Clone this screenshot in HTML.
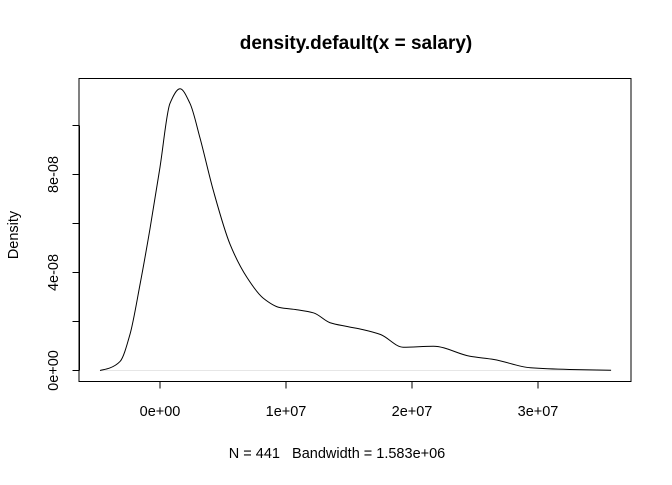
<!DOCTYPE html>
<html><head><meta charset="utf-8"><style>
html,body{margin:0;padding:0;background:#fff}
svg text{font-family:"Liberation Sans",Arial,sans-serif;fill:#000;white-space:pre}
</style></head><body>
<svg id="chart" width="672" height="480" viewBox="0 0 672 480" xmlns="http://www.w3.org/2000/svg">
<text x="356" y="49" font-size="19" font-weight="bold" text-anchor="middle">density.default(x = salary)</text>
<rect x="79" y="78.5" width="552" height="303" fill="none" stroke="#000" stroke-width="1"/>
<text transform="translate(18,235) rotate(-90)" font-size="14.5" text-anchor="middle">Density</text>
<text x="337" y="458" font-size="14.5" text-anchor="middle" xml:space="preserve">N = 441   Bandwidth = 1.583e+06</text>
<g id="axes"></g>
<line id="base" stroke="#e6e6e6" stroke-width="1"/>
<path id="curve" fill="none" stroke="#000" stroke-width="1"/>
</svg>
<script>
const xVals=[-4.76,-4.0,-3.17,-2.38,-1.59,-0.79,0,0.79,1.59,2.38,3.17,4.23,5.56,6.9,8.2,9.5,10.85,12.2,13.5,14.8,16.1,17.5,19.3,21.7,24.6,26.5,29.4,32.5,35.8];
const densVals=[0,0.1,0.37,1.48,3.5,5.8,8.3,10.9,11.5,10.9,9.5,7.35,5.15,3.8,2.95,2.57,2.48,2.35,1.95,1.8,1.67,1.47,0.95,0.99,0.58,0.45,0.11,0.04,0.01];
const xTicks=[0,10,20,30];
const xTickLabels=["0e+00","1e+07","2e+07","3e+07"];
const yTicks=[0,2,4,6,8,10];
const yTickLabels=["0e+00","","4e-08","","8e-08",""];
const sx=v=>160+v*12.6, sy=v=>370.5-v*24.5;
const ns="http://www.w3.org/2000/svg";
const axes=document.getElementById('axes');
function mk(t,a){const e=document.createElementNS(ns,t);for(const k in a)e.setAttribute(k,a[k]);axes.appendChild(e);return e;}
const xl=mk('line',{x1:sx(0),x2:sx(30),y1:381.5,y2:381.5,stroke:'#000'});


xTicks.forEach((t,i)=>{
 const l=mk('line',{x1:sx(t),x2:sx(t),y1:381.5,y2:388.5,stroke:'#000'});
 
 
 const tx=mk('text',{x:sx(t),y:416,'font-size':14.5,'text-anchor':'middle'});
 tx.textContent=xTickLabels[i];
 
 
});
const yl=mk('line',{x1:79.5,x2:79.5,y1:sy(0),y2:sy(10),stroke:'#000'});


yTicks.forEach((t,i)=>{
 const l=mk('line',{x1:72.5,x2:79.5,y1:sy(t),y2:sy(t),stroke:'#000'});
 
 
 if(yTickLabels[i]){
  const tx=mk('text',{transform:`translate(58,${sy(t)}) rotate(-90)`,'font-size':14.5,'text-anchor':'middle'});
  tx.textContent=yTickLabels[i];
  
  
 }
});
const b=document.getElementById('base');
b.setAttribute('x1',sx(xVals[0]));b.setAttribute('x2',sx(xVals[xVals.length-1]));
b.setAttribute('y1',sy(0));b.setAttribute('y2',sy(0));
// monotone cubic (Fritsch-Carlson) in data space
const n=xVals.length, dl=[], m=new Array(n);
for(let i=0;i<n-1;i++)dl.push((densVals[i+1]-densVals[i])/(xVals[i+1]-xVals[i]));
m[0]=dl[0];m[n-1]=dl[n-2];
for(let i=1;i<n-1;i++){
 if(dl[i-1]*dl[i]<=0)m[i]=0;
 else{const h0=xVals[i]-xVals[i-1],h1=xVals[i+1]-xVals[i];const w1=2*h1+h0,w2=h1+2*h0;m[i]=(w1+w2)/(w1/dl[i-1]+w2/dl[i]);}
}
let d=`M${sx(xVals[0])},${sy(densVals[0])}`;
for(let i=0;i<n-1;i++){
 const h=xVals[i+1]-xVals[i];
 const c1x=xVals[i]+h/3,c1y=densVals[i]+m[i]*h/3;
 const c2x=xVals[i+1]-h/3,c2y=densVals[i+1]-m[i+1]*h/3;
 d+=` C${sx(c1x)},${sy(c1y)} ${sx(c2x)},${sy(c2y)} ${sx(xVals[i+1])},${sy(densVals[i+1])}`;
}
document.getElementById('curve').setAttribute('d',d);
</script>
</body></html>
